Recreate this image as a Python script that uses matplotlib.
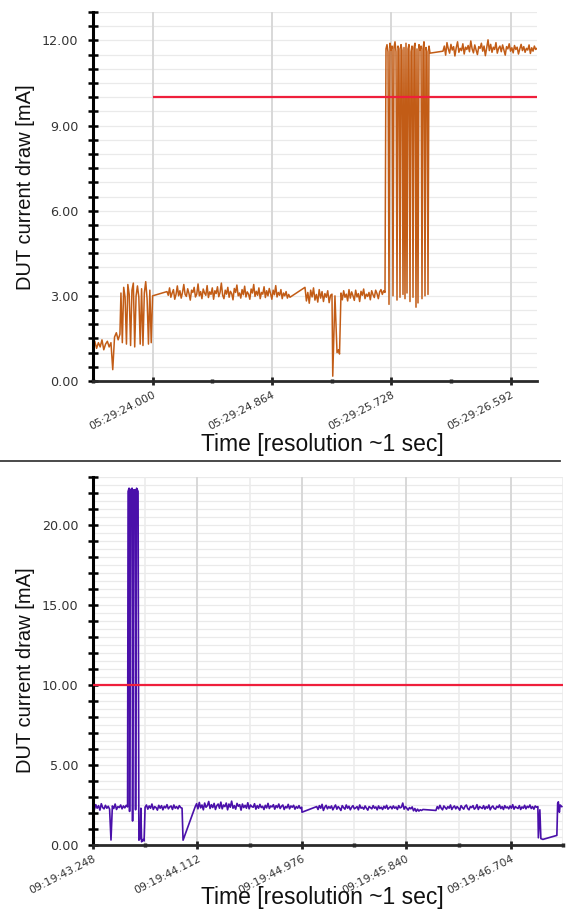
#!/usr/bin/python3

"""Pobór prądu DUT w dwóch pomiarach: przebieg pomarańczowy i fioletowy."""

import numpy as np
import matplotlib
matplotlib.use('Agg')
import matplotlib.pyplot as plt
from matplotlib.ticker import FixedLocator, FuncFormatter


# Górny wykres: czas w sekundach względem 05:29:24.000, prąd w mA.
GORA_START = (5, 29, 24.000)
GORA_SEG_A = (-0.432, -0.237, [1.25, 1.40, 1.15, 1.35, 1.20, 1.45, 1.10, 1.30, 1.40, 1.20,
                               1.35, 0.40, 1.55, 1.70, 1.45, 1.65])
GORA_SEG_B = (-0.2296, -0.0005, [3.10, 1.35, 3.30, 2.95, 1.30, 3.40, 3.05, 1.25, 3.20, 3.45,
                                 1.20, 3.00, 3.35, 2.95, 1.30, 3.25, 1.25, 3.10, 3.50, 2.90,
                                 1.30, 3.20, 1.35, 3.00])
GORA_SEG_C = (0.1036, 0.9943, [3.15, 3.02, 3.28, 2.95, 3.10, 3.22, 2.88, 3.05, 3.35, 3.00,
                               3.18, 2.92, 3.12, 3.40, 3.05, 2.98, 3.25, 3.08, 2.85, 3.20,
                               3.12, 3.30, 2.96, 3.06, 3.42, 3.00, 3.15, 2.90, 3.24, 3.10,
                               3.02, 3.36, 2.94, 3.14, 3.05, 3.28, 2.88, 3.18, 3.08, 3.32,
                               2.97, 3.12, 3.45, 3.02, 2.90, 3.20, 3.06, 3.30, 2.95, 3.16,
                               3.08, 2.86, 3.26, 3.12, 3.38, 3.00, 3.10, 2.92, 3.22, 3.04,
                               3.34, 2.96, 3.14, 3.06, 2.88, 3.24, 3.10, 3.40, 2.98, 3.16,
                               3.02, 3.28, 2.90, 3.12, 3.06, 3.32, 2.94, 3.18, 3.00, 3.26,
                               3.08, 2.88, 3.20, 3.04, 3.36, 2.96, 3.12, 3.02, 3.22, 2.90,
                               3.10, 3.00, 3.15, 2.92, 3.05, 2.95])
GORA_SEG_D = (1.1030, 1.2985, [3.30, 2.82, 3.12, 2.74, 3.20, 2.96, 3.28, 2.85, 3.05, 2.78,
                               3.22, 2.92, 3.15, 2.80, 3.08, 2.95, 3.18, 2.76, 3.02, 3.06])
GORA_DOLEK_T = [1.304, 1.320, 1.335, 1.346, 1.353]
GORA_DOLEK_V = [0.17, 3.00, 1.00, 1.10, 0.95]
GORA_SEG_E = (1.3637, 1.6823, [3.10, 2.86, 3.18, 2.95, 3.06, 2.82, 3.22, 2.92, 3.14, 3.00,
                               2.84, 3.20, 2.96, 3.08, 2.80, 3.16, 3.02, 3.24, 2.90, 3.06,
                               2.98, 3.12, 2.86, 3.18, 3.04, 2.94, 3.20, 3.08, 2.90, 3.14,
                               3.22, 3.05, 3.18, 3.12])
GORA_SEG_F = (1.6896, 2.0082, [11.70, 11.85, 11.60, 2.70, 11.90, 11.65, 11.80, 3.00, 11.75,
                               11.95, 11.60, 2.85, 11.80, 11.70, 2.95, 11.85, 11.65, 3.05,
                               11.75, 2.90, 11.90, 3.10, 11.70, 11.85, 2.80, 11.60, 11.80,
                               2.95, 11.75, 11.90, 2.60, 11.70, 2.75, 11.85, 11.65, 11.80,
                               2.90, 11.70, 11.95, 3.00, 11.75, 11.60, 3.05, 11.80, 11.55])
GORA_SEG_G = (2.1023, 2.7831, [11.62, 11.80, 11.48, 11.92, 11.70, 11.55, 11.86, 11.66, 11.78,
                               11.45, 11.74, 11.95, 11.58, 11.72, 11.64, 11.88, 11.52, 11.76,
                               11.68, 11.82, 11.60, 11.98, 11.70, 11.56, 11.84, 11.66, 11.50,
                               11.78, 11.72, 11.90, 11.62, 11.80, 11.46, 11.74, 12.02, 11.64,
                               11.86, 11.58, 11.76, 11.68, 11.92, 11.55, 11.72, 11.80, 11.60,
                               11.84, 11.66, 11.48, 11.78, 11.70, 11.88, 11.62, 11.74, 11.56,
                               11.82, 11.68, 11.76, 11.52, 11.70, 11.86, 11.64, 11.78, 11.58,
                               11.72, 11.66, 11.84, 11.54, 11.74, 11.62, 11.80, 11.68, 11.72])
GORA_PROG = 10.0
GORA_PROG_OD = 0.0

# Dolny wykres: czas w sekundach względem 09:19:43.248.
DOL_START = (9, 19, 43.248)
DOL_SEG_1 = (0.0, 0.2861, [2.40, 2.22, 2.52, 2.30, 2.46, 2.18, 2.58, 2.34, 2.26, 2.48,
                           2.30, 2.42, 2.24, 0.31, 2.44, 2.28, 2.56, 2.22, 2.40, 2.34,
                           2.50, 2.26, 2.44, 2.32, 2.48, 2.38])
DOL_SZPILKA_T = [0.2902, 0.2985, 0.3026, 0.3109, 0.3233, 0.3274, 0.3357, 0.3481, 0.3522,
                 0.3605, 0.3729, 0.3795, 0.3894, 0.3960, 0.4018, 0.4142, 0.4225]
DOL_SZPILKA_V = [22.10, 22.30, 2.10, 22.20, 22.30, 1.50, 22.20, 22.20, 2.20,
                 22.30, 22.10, 0.30, 0.40, 2.30, 0.20, 0.35, 0.25]
DOL_SEG_2 = (0.4308, 0.7367, [2.36, 2.50, 2.24, 2.44, 2.30, 2.56, 2.22, 2.40, 2.34, 2.18,
                              2.48, 2.30, 2.46, 2.20, 2.42, 2.32, 2.52, 2.26, 2.38, 2.44,
                              2.22, 2.50, 2.30, 2.40, 2.26, 2.46, 2.34, 2.30])
DOL_DOLEK_1 = ([0.7450], [0.30])
DOL_SEG_3 = (0.8458, 1.7264, [2.40, 2.58, 2.26, 2.66, 2.32, 2.50, 2.20, 2.62, 2.36, 2.46,
                              2.72, 2.28, 2.52, 2.34, 2.60, 2.22, 2.46, 2.56, 2.30, 2.68,
                              2.26, 2.50, 2.40, 2.62, 2.20, 2.56, 2.36, 2.74, 2.30, 2.46,
                              2.24, 2.60, 2.42, 2.52, 2.18, 2.56, 2.34, 2.48, 2.30, 2.64,
                              2.26, 2.50, 2.40, 2.36, 2.58, 2.24, 2.46, 2.30, 2.54, 2.34,
                              2.42, 2.22, 2.48, 2.32, 2.60, 2.28, 2.44, 2.38, 2.52, 2.24,
                              2.46, 2.34, 2.56, 2.28, 2.42, 2.50, 2.22, 2.40, 2.32, 2.54,
                              2.26, 2.44, 2.36, 2.48, 2.24, 2.40, 2.30, 2.46, 2.28, 2.36])
DOL_DOLEK_2 = ([1.7288], [2.05])
DOL_SEG_4 = (1.8504, 2.7293, [2.40, 2.22, 2.46, 2.30, 2.54, 2.16, 2.36, 2.48, 2.26, 2.40,
                              2.30, 2.44, 2.20, 2.36, 2.50, 2.24, 2.40, 2.30, 2.16, 2.46,
                              2.34, 2.24, 2.50, 2.30, 2.42, 2.20, 2.36, 2.46, 2.26, 2.32,
                              2.40, 2.20, 2.50, 2.30, 2.36, 2.24, 2.44, 2.30, 2.18, 2.40,
                              2.34, 2.26, 2.46, 2.30, 2.38, 2.20, 2.44, 2.28, 2.36, 2.22,
                              2.42, 2.30, 2.48, 2.24, 2.34, 2.40, 2.26, 2.44, 2.30, 2.38,
                              2.22, 2.46, 2.32, 2.36, 2.62, 2.24, 2.40, 2.30, 2.18, 2.34,
                              2.26, 2.38, 2.14, 2.28, 2.10, 2.24, 2.12, 2.20, 2.16, 2.22])
DOL_SEG_5 = (2.8368, 3.6801, [2.16, 2.40, 2.26, 2.48, 2.30, 2.20, 2.44, 2.34, 2.24, 2.40,
                              2.30, 2.50, 2.22, 2.36, 2.44, 2.26, 2.40, 2.30, 2.18, 2.46,
                              2.34, 2.24, 2.42, 2.50, 2.28, 2.20, 2.40, 2.34, 2.46, 2.24,
                              2.32, 2.52, 2.22, 2.40, 2.34, 2.28, 2.46, 2.24, 2.40, 2.30,
                              2.50, 2.20, 2.36, 2.44, 2.28, 2.24, 2.42, 2.34, 2.50, 2.28,
                              2.40, 2.22, 2.46, 2.32, 2.38, 2.26, 2.44, 2.30, 2.52, 2.24,
                              2.40, 2.34, 2.28, 2.46, 2.22, 2.38, 2.30, 2.48, 2.26, 2.42,
                              2.34, 2.50, 2.28, 2.40, 2.24, 2.44, 2.36, 2.40])
DOL_OGON_T = [3.6842, 3.6966, 3.7049, 3.7214, 3.8372, 3.8438, 3.8496, 3.8579, 3.8645, 3.8785]
DOL_OGON_V = [0.45, 2.20, 0.40, 0.35, 0.60, 2.60, 2.70, 2.05, 2.50, 2.40]
DOL_PROG = 10.0

KROK = 0.864  # odstęp etykiet osi czasu [s]

POMARANCZOWY = '#C25C16'
FIOLETOWY = '#4A10AA'
CZERWONY = '#EF1F3C'


def złóż(*kawałki):
    czasy, wartości = [], []
    for kawałek in kawałki:
        if len(kawałek) == 3:
            t0, t1, v = kawałek
            czasy.extend(np.linspace(t0, t1, len(v)))
            wartości.extend(v)
        else:
            czasy.extend(kawałek[0])
            wartości.extend(kawałek[1])
    return np.array(czasy), np.array(wartości)


def formatka_czasu(start):
    godz, minuty, sek = start
    return FuncFormatter(lambda t, _: f'{godz:02d}:{minuty:02d}:{sek + t:06.3f}')


def ustaw_osie(ax, xlim, ylim, y_major, y_minor, y_grid, x_major, x_minor, x_grid_minor,
               start, xlabel_xy, ylabel_xy):
    ax.set_xlim(*xlim)
    ax.set_ylim(*ylim)
    for s in ('top', 'right'):
        ax.spines[s].set_visible(False)
    ax.spines['left'].set_linewidth(2.2)
    ax.spines['left'].set_color('black')
    ax.spines['bottom'].set_linewidth(2.0)
    ax.spines['bottom'].set_color('#2a2a2a')

    for g in y_grid:
        ax.axhline(g, color='#EAEAEA', lw=0.9, zorder=0)
    for g in x_major:
        ax.axvline(g, color='#D8D8D8', lw=1.4, zorder=0)
    if x_grid_minor:
        for g in x_minor:
            ax.axvline(g, color='#ECECEC', lw=1.2, zorder=0)

    ax.yaxis.set_major_locator(FixedLocator(y_major))
    ax.yaxis.set_minor_locator(FixedLocator(y_minor))
    ax.yaxis.set_major_formatter(FuncFormatter(lambda v, _: f'{v:.2f}'))
    ax.tick_params(axis='y', which='both', direction='inout', length=7, width=1.8,
                   color='black', pad=7)
    ax.tick_params(axis='y', which='major', labelsize=9.2, labelcolor='#333333')

    ax.xaxis.set_major_locator(FixedLocator(x_major))
    ax.xaxis.set_minor_locator(FixedLocator(x_minor))
    ax.xaxis.set_major_formatter(formatka_czasu(start))
    ax.tick_params(axis='x', which='major', direction='inout', length=6, width=2,
                   color='#222222', labelsize=7.9, labelcolor='#333333', pad=3)
    ax.tick_params(axis='x', which='minor', direction='inout', length=2.5, width=2.5,
                   color='#222222')
    for lab in ax.get_xticklabels():
        lab.set_rotation(27)
        lab.set_ha('right')
        lab.set_rotation_mode('anchor')

    ax.set_ylabel('DUT current draw [mA]', family='Liberation Sans', fontsize=14.5,
                  color='#111111')
    ax.set_xlabel('Time [resolution ~1 sec]', family='Liberation Sans', fontsize=16.5,
                  color='#111111')
    ax.xaxis.set_label_coords(*xlabel_xy)
    ax.yaxis.set_label_coords(*ylabel_xy)


def main():
    plt.rcParams['font.family'] = ['DejaVu Sans']
    fig = plt.figure(figsize=(5.66, 9.14), dpi=100)

    # górny
    ax1 = fig.add_axes([93 / 566, 533 / 914, 444 / 566, 369 / 914])
    t, v = złóż(GORA_SEG_A, GORA_SEG_B, GORA_SEG_C, GORA_SEG_D,
                (GORA_DOLEK_T, GORA_DOLEK_V), GORA_SEG_E, GORA_SEG_F, GORA_SEG_G)
    x_max1 = 2.783
    ax1.plot(t, v, color=POMARANCZOWY, lw=1.1, zorder=2)
    ax1.hlines(GORA_PROG, GORA_PROG_OD, x_max1, color=CZERWONY, lw=1.6, zorder=3)
    ustaw_osie(ax1, (-0.432, x_max1), (0, 13),
               np.arange(0, 12.01, 3), np.arange(0, 13.01, 0.5), np.arange(0.5, 13.01, 0.5),
               [KROK * i for i in range(4)], [KROK * (i - 0.5) for i in range(4)], False,
               GORA_START, (0.516, -0.141), (-0.131, 0.526))

    # dolny
    ax2 = fig.add_axes([93 / 566, 69 / 914, 470 / 566, 368 / 914])
    t, v = złóż(DOL_SEG_1, (DOL_SZPILKA_T, DOL_SZPILKA_V), DOL_SEG_2, DOL_DOLEK_1,
                DOL_SEG_3, DOL_DOLEK_2, DOL_SEG_4, DOL_SEG_5, (DOL_OGON_T, DOL_OGON_V))
    x_max2 = 3.888
    ax2.plot(t, v, color=FIOLETOWY, lw=1.2, zorder=2)
    ax2.axhline(DOL_PROG, color=CZERWONY, lw=1.6, zorder=3)
    ustaw_osie(ax2, (0, x_max2), (0, 23),
               np.arange(0, 20.01, 5), np.arange(0, 23.01, 1), np.arange(0.5, 23.01, 0.5),
               [KROK * i for i in range(5)], [KROK * (i + 0.5) for i in range(5)], True,
               DOL_START, (0.487, -0.111), (-0.123, 0.476))

    # kreska oddzielająca oba wykresy
    fig.add_artist(plt.Line2D([0.0, 0.99], [453 / 914, 453 / 914], color='#3a3a3a', lw=1.3))

    fig.savefig('out.png', dpi=100)


if __name__ == '__main__':
    main()
